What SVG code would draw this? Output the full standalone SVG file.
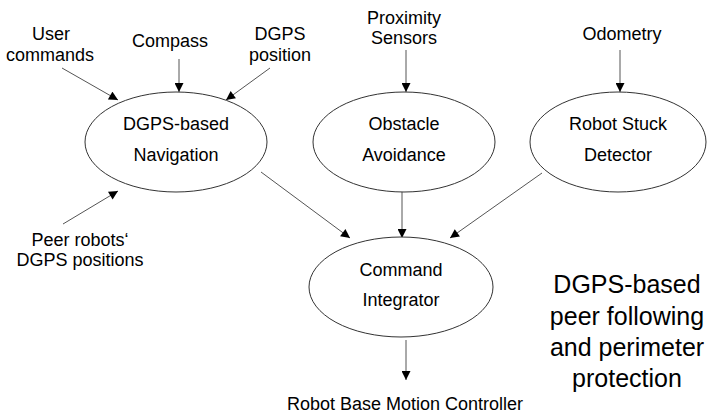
<svg xmlns="http://www.w3.org/2000/svg" width="708" height="414" viewBox="0 0 708 414">
  <style>
    .node { fill: #ffffff; stroke: #333333; stroke-width: 1; }
    .lbl { font-family: "Liberation Sans", Arial, sans-serif; font-size: 18px; fill: #000000; text-anchor: middle; }
    .title { font-family: "Liberation Sans", Arial, sans-serif; font-size: 25px; fill: #000000; text-anchor: middle; }
    .edge { stroke: #555555; stroke-width: 1; fill: none; marker-end: url(#arrow); }
  </style>
  <defs>
    <marker id="arrow" viewBox="0 0 10 10" refX="10" refY="5" markerWidth="10" markerHeight="9" markerUnits="userSpaceOnUse" orient="auto">
      <path d="M0,0 L10,5 L0,10 z" fill="#000000"/>
    </marker>
  </defs>
  <rect width="708" height="414" fill="#ffffff"/>

  <!-- connectors -->
  <g id="connectors">
    <line class="edge" x1="62" y1="68" x2="118" y2="100"/>
    <line class="edge" x1="179" y1="59" x2="179" y2="92"/>
    <line class="edge" x1="270" y1="68" x2="226" y2="100"/>
    <line class="edge" x1="63" y1="224" x2="118" y2="191"/>
    <line class="edge" x1="406" y1="50" x2="406" y2="92"/>
    <line class="edge" x1="620" y1="50" x2="620" y2="92"/>
    <line class="edge" x1="261" y1="172" x2="350" y2="238"/>
    <line class="edge" x1="402" y1="191" x2="402" y2="238"/>
    <line class="edge" x1="542" y1="173" x2="450" y2="238"/>
    <line class="edge" x1="406" y1="340" x2="406" y2="380"/>
  </g>

  <!-- input labels -->
  <g id="inputs">
    <text class="lbl" x="51" y="40">User</text>
    <text class="lbl" x="50" y="61">commands</text>
    <text class="lbl" x="170" y="47">Compass</text>
    <text class="lbl" x="280" y="40">DGPS</text>
    <text class="lbl" x="280" y="61">position</text>
    <text class="lbl" x="404" y="24">Proximity</text>
    <text class="lbl" x="404" y="44">Sensors</text>
    <text class="lbl" x="622" y="40">Odometry</text>
    <text class="lbl" x="80" y="246">Peer robots‘</text>
    <text class="lbl" x="80" y="266">DGPS positions</text>
    <text class="lbl" x="405" y="410">Robot Base Motion Controller</text>
  </g>

  <g id="nav">
    <ellipse class="node" cx="176" cy="142" rx="91" ry="50"/>
    <text class="lbl" x="176" y="130">DGPS-based</text>
    <text class="lbl" x="176" y="161">Navigation</text>
  </g>

  <g id="obstacle">
    <ellipse class="node" cx="404" cy="142" rx="91" ry="50"/>
    <text class="lbl" x="404" y="130">Obstacle</text>
    <text class="lbl" x="404" y="161">Avoidance</text>
  </g>

  <g id="stuck">
    <ellipse class="node" cx="618" cy="142" rx="88" ry="50"/>
    <text class="lbl" x="618" y="130">Robot Stuck</text>
    <text class="lbl" x="618" y="161">Detector</text>
  </g>

  <g id="integrator">
    <ellipse class="node" cx="401" cy="287" rx="92" ry="50"/>
    <text class="lbl" x="401" y="276">Command</text>
    <text class="lbl" x="401" y="306">Integrator</text>
  </g>

  <g id="caption">
    <text class="title" x="627" y="293">DGPS-based</text>
    <text class="title" x="627" y="325">peer following</text>
    <text class="title" x="627" y="356">and perimeter</text>
    <text class="title" x="627" y="387">protection</text>
  </g>
</svg>
